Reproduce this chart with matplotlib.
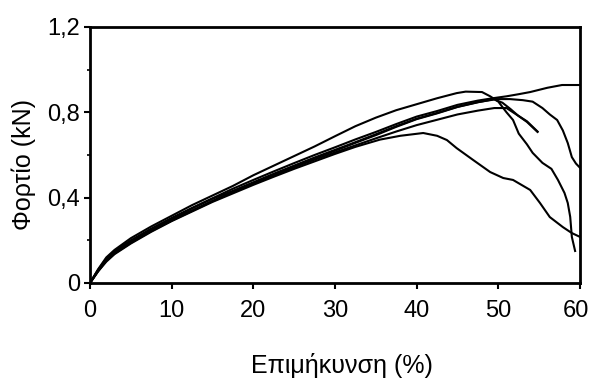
import matplotlib
matplotlib.use('Agg')
import matplotlib.pyplot as plt
from matplotlib.transforms import ScaledTranslation

plt.rcParams['font.family'] = ['Liberation Sans', 'DejaVu Sans']

# specimen curves: elongation (%) vs load (kN)
a_x = [0, 1, 2, 3, 5, 7.5, 10, 12.5, 15, 17.5, 20, 22.5, 25, 27.5, 30, 32.5, 35, 37.5, 40, 42.5, 45, 47.5, 49.5,
       51, 52.5, 53.9, 56, 57.8, 60]
a_y = [0, 0.062, 0.115, 0.15, 0.2, 0.255, 0.305, 0.352, 0.397, 0.442, 0.483, 0.523, 0.562, 0.6, 0.636, 0.673,
       0.708, 0.745, 0.78, 0.806, 0.835, 0.855, 0.867, 0.875, 0.885, 0.895, 0.915, 0.928, 0.928]

b_x = [0, 1, 2, 3, 5, 7.5, 10, 12.5, 15, 17.5, 20, 22.5, 25, 27.5, 30, 32.5, 35, 37.5, 40, 42.5, 45, 47.5, 49.5,
       51.4, 53, 54.2, 55.4, 56.3, 57.2, 57.9, 58.5, 59, 59.5, 60]
b_y = [0, 0.058, 0.107, 0.14, 0.19, 0.245, 0.295, 0.34, 0.385, 0.428, 0.468, 0.508, 0.548, 0.585, 0.62, 0.657,
       0.693, 0.732, 0.768, 0.795, 0.825, 0.847, 0.862, 0.862, 0.857, 0.85, 0.82, 0.79, 0.764, 0.715, 0.656,
       0.59, 0.56, 0.54]

c_x = [0, 1, 2, 3, 5, 7.5, 10, 12.5, 15, 17.5, 20, 22.5, 25, 27.5, 30, 32.5, 35, 37.5, 40, 42.5, 45, 47.5, 49.5,
       50.5, 51.5, 52.4, 53.5, 54.8]
c_y = [0, 0.06, 0.108, 0.142, 0.192, 0.248, 0.298, 0.35, 0.395, 0.432, 0.472, 0.512, 0.55, 0.588, 0.624, 0.66,
       0.697, 0.735, 0.77, 0.797, 0.826, 0.848, 0.86, 0.845, 0.815, 0.785, 0.758, 0.71]

d_x = [0, 1, 2, 3, 5, 7.5, 10, 12.5, 15, 17.5, 20, 22.5, 25, 27.5, 30, 32.5, 35, 37.5, 40, 42.5, 44.9, 46, 48,
       49, 50, 51, 51.8, 52.5, 53.5, 54.2, 55.4, 56.5, 57.3, 58.1, 58.5, 58.8, 59, 59.4]
d_y = [0, 0.065, 0.12, 0.155, 0.21, 0.265, 0.315, 0.365, 0.41, 0.455, 0.505, 0.55, 0.595, 0.64, 0.688, 0.735,
       0.775, 0.81, 0.838, 0.866, 0.89, 0.897, 0.895, 0.875, 0.85, 0.8, 0.764, 0.7, 0.65, 0.61, 0.563, 0.535,
       0.483, 0.422, 0.375, 0.31, 0.216, 0.15]

e_x = [0, 1, 2, 3, 5, 7.5, 10, 12.5, 15, 17.5, 20, 22.5, 25, 27.5, 30, 32.5, 35, 37.5, 40, 42.5, 45, 47.5, 49.5,
       51, 52.4, 53.5, 54.8]
e_y = [0, 0.055, 0.105, 0.138, 0.188, 0.243, 0.292, 0.338, 0.383, 0.425, 0.465, 0.503, 0.542, 0.578, 0.612,
       0.645, 0.678, 0.71, 0.74, 0.765, 0.79, 0.808, 0.82, 0.82, 0.785, 0.755, 0.708]

f_x = [0, 1, 2, 3, 5, 7.5, 10, 12.5, 15, 17.5, 20, 22.5, 25, 27.5, 30, 32.5, 35.5, 38, 40.8, 42.5, 43.7, 44.9,
       46.9, 49, 50.6, 51.8, 53.9, 55.1, 56.3, 57.9, 59, 60]
f_y = [0, 0.055, 0.1, 0.135, 0.185, 0.24, 0.29, 0.335, 0.38, 0.42, 0.46, 0.498, 0.535, 0.57, 0.605, 0.638,
       0.672, 0.69, 0.703, 0.69, 0.67, 0.632, 0.577, 0.52, 0.492, 0.483, 0.436, 0.375, 0.309, 0.262, 0.234, 0.216]

curves = [(a_x, a_y), (b_x, b_y), (c_x, c_y), (d_x, d_y), (e_x, e_y), (f_x, f_y)]

x_ticks = [0, 10, 20, 30, 40, 50, 60]
y_ticks = [0, 0.4, 0.8, 1.2]
y_labels = ['0', '0,4', '0,8', '1,2']
y_minor = [0.2, 0.6, 1.0]

fig = plt.figure(figsize=(5.91, 3.80), dpi=100)
ax = fig.add_axes([0.1523, 0.2553, 0.8291, 0.6737])

for xs, ys in curves:
    ax.plot(xs, ys, color='black', lw=1.5, solid_joinstyle='round')

ax.set_xlim(0, 60)
ax.set_ylim(0, 1.2)
ax.set_xticks(x_ticks)
ax.set_yticks(y_ticks)
ax.set_yticklabels(y_labels)
ax.set_yticks(y_minor, minor=True)

for s in ax.spines.values():
    s.set_linewidth(2)

ax.tick_params(axis='both', which='major', direction='out', length=4, width=1.5, labelsize=17)
ax.tick_params(axis='x', which='major', pad=8)
ax.tick_params(axis='y', which='major', pad=3)
ax.tick_params(axis='y', which='minor', direction='out', length=2, width=1.2)

# last x label sits at the figure edge, nudge it in a little
fig.canvas.draw()
last = ax.get_xticklabels()[-1]
last.set_transform(last.get_transform() + ScaledTranslation(-4 / 100, 0, fig.dpi_scale_trans))

ax.set_xlabel('Επιμήκυνση (%)', fontsize=18)
ax.set_ylabel('Φορτίο (kN)', fontsize=18)
ax.xaxis.set_label_coords(0.514, -0.273)
ax.yaxis.set_label_coords(-0.11, 0.461)

fig.savefig('out.png', dpi=100)
